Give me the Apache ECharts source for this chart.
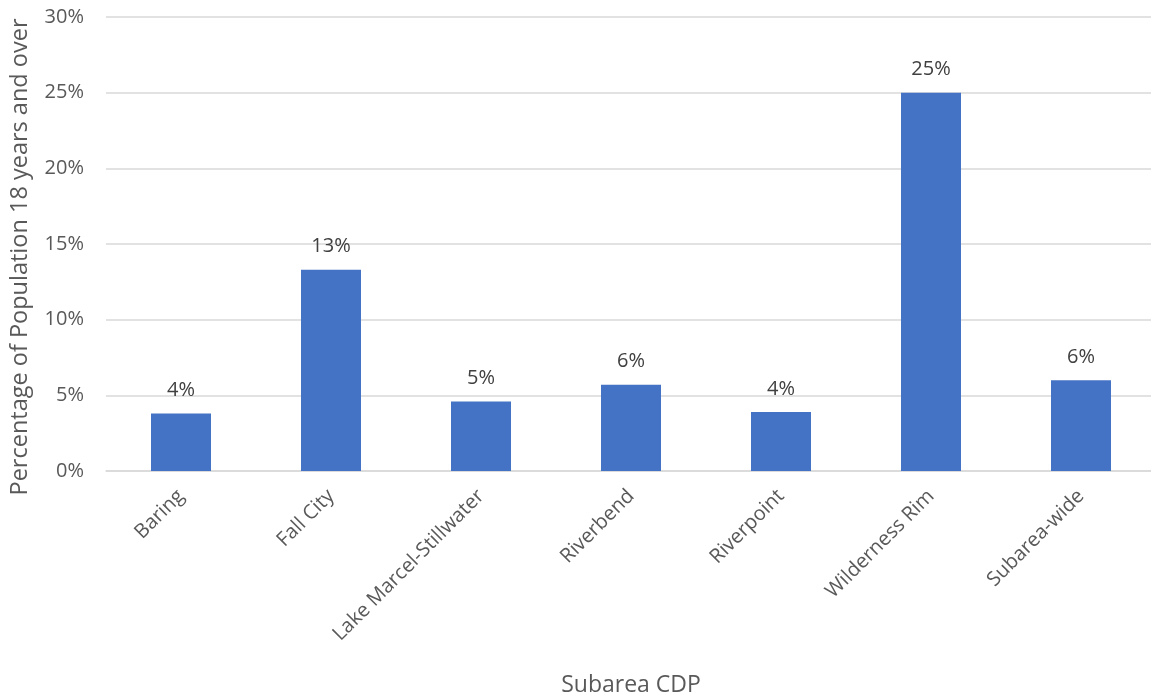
<!DOCTYPE html>
<html>
<head>
<meta charset="utf-8">
<script src="https://cdn.jsdelivr.net/npm/echarts@6/dist/echarts.min.js"></script>
<style>
  html, body { margin: 0; padding: 0; background: #fff; }
  #chart { width: 1151px; height: 700px; }
</style>
</head>
<body>
<div id="chart"></div>
<script>
// data
const categories = ['Baring', 'Fall City', 'Lake Marcel-Stillwater', 'Riverbend', 'Riverpoint', 'Wilderness Rim', 'Subarea-wide']
const shares = [3.8, 13.3, 4.6, 5.7, 3.9, 25.0, 6.0]

const font = '"Open Sans", sans-serif'
const chart = echarts.init(document.getElementById('chart'))

chart.setOption({
  animation: false,
  grid: { left: 106, right: -5, top: 17, bottom: 229, outerBoundsMode: 'none' },
  xAxis: {
    type: 'category',
    data: categories,
    name: 'Subarea CDP',
    nameLocation: 'middle',
    nameGap: 203,
    nameTextStyle: { color: '#595959', fontSize: 23, fontFamily: font },
    axisLine: { lineStyle: { color: '#d9d9d9', width: 1.5 } },
    axisTick: { show: false },
    axisLabel: { rotate: 45, color: '#595959', fontSize: 20, fontFamily: font, interval: 0, margin: 22 }
  },
  yAxis: {
    type: 'value',
    min: 0,
    max: 30,
    interval: 5,
    name: 'Percentage of Population 18 years and over',
    nameLocation: 'middle',
    nameGap: 74,
    nameTextStyle: { color: '#595959', fontSize: 23.5, fontFamily: font, padding: [0, 26, 0, 0] },
    axisLine: { show: false },
    axisTick: { show: false },
    axisLabel: { formatter: '{value}%', color: '#595959', fontSize: 20, fontFamily: font, margin: 22 },
    splitLine: { lineStyle: { color: '#d9d9d9', width: 1.5 } }
  },
  series: [
    {
      type: 'bar',
      data: shares,
      barWidth: '40%',
      itemStyle: { color: '#4472c4' },
      label: {
        show: true,
        position: 'top',
        distance: 13,
        color: '#404040',
        fontSize: 20,
        fontFamily: font,
        formatter: p => Math.round(p.value) + '%'
      }
    }
  ]
})
</script>
</body>
</html>
